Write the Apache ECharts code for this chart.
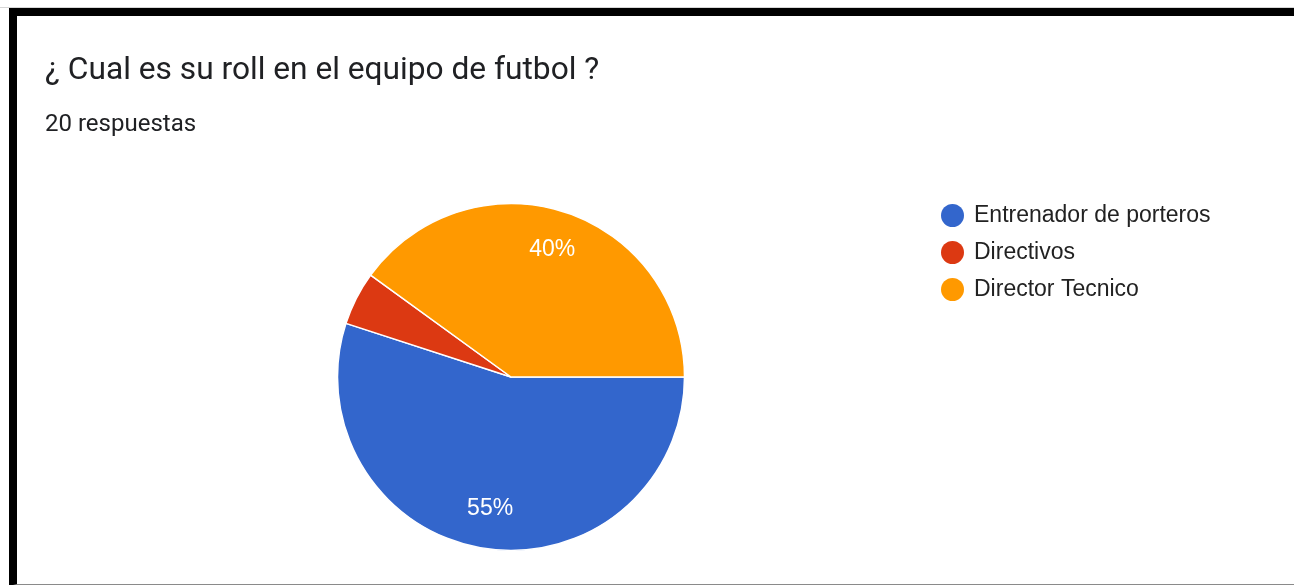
<!DOCTYPE html>
<html>
<head>
<meta charset="utf-8">
<script src="https://cdn.jsdelivr.net/npm/echarts@6/dist/echarts.min.js"></script>
<style>
  html, body { margin: 0; padding: 0; background: #ffffff; }
  body { width: 1294px; height: 585px; position: relative; overflow: hidden; }
  .topline { position: absolute; left: 0; top: 7px; width: 1294px; height: 1px; background: #d6d6d6; }
  .frame { position: absolute; left: 9px; top: 8px; width: 1300px; height: 568px;
           border-top: 8px solid #000; border-left: 8px solid #000; border-bottom: 2px solid #8a8a8a; }
  #chart { position: absolute; left: 0; top: 0; width: 1294px; height: 585px; }
</style>
</head>
<body>
<div class="topline"></div>
<div class="frame"></div>
<div id="chart"></div>
<script>
// Survey question and response count
const questionTitle = '¿ Cual es su roll en el equipo de futbol ?';
const responseNote = '20 respuestas';

// Answer options and how many respondents picked each
const categories = ['Entrenador de porteros', 'Directivos', 'Director Tecnico'];
const counts = [11, 1, 8];
const sliceColors = ['#3366cc', '#dc3912', '#ff9900'];

// Slices too small to carry an in-slice percentage label
const hiddenLabels = ['Directivos'];

const pieData = categories.map((name, i) => ({ name: name, value: counts[i] }));
const labelData = categories.map((name, i) => ({
  name: name,
  value: counts[i],
  label: { show: hiddenLabels.indexOf(name) < 0 }
}));

const R = 173.5;
const center = [511, 377];

const chart = echarts.init(document.getElementById('chart'), null, { renderer: 'canvas' });
chart.setOption({
  animation: false,
  color: sliceColors,
  title: [
    {
      text: questionTitle,
      left: 40,
      top: 48,
      textStyle: { fontFamily: 'Roboto', fontSize: 31.7, fontWeight: 'normal', color: '#202124', lineHeight: 36 }
    },
    {
      text: responseNote,
      left: 40,
      top: 105,
      textStyle: { fontFamily: 'Roboto', fontSize: 24, fontWeight: 'normal', color: '#202124', lineHeight: 30 }
    }
  ],
  legend: {
    orient: 'vertical',
    left: 941,
    top: 204,
    padding: 0,
    icon: 'circle',
    itemWidth: 23,
    itemHeight: 23,
    itemGap: 14,
    itemStyle: { borderWidth: 0 },
    data: categories,
    textStyle: { fontFamily: 'Liberation Sans, Arial', fontSize: 23, color: '#222222', lineHeight: 23, padding: [0, 0, 0, 5] }
  },
  series: [
    {
      name: 'rol',
      type: 'pie',
      center: center,
      radius: R,
      startAngle: 0,
      clockwise: true,
      avoidLabelOverlap: false,
      label: { show: false },
      labelLine: { show: false },
      itemStyle: { borderColor: '#ffffff', borderWidth: 1.5 },
      emphasis: { disabled: true },
      data: pieData
    },
    {
      name: 'rol-labels',
      type: 'pie',
      center: center,
      radius: [R * 0.505, R],
      startAngle: 0,
      clockwise: true,
      silent: true,
      avoidLabelOverlap: false,
      itemStyle: { color: 'rgba(0,0,0,0)', borderWidth: 0 },
      labelLine: { show: false },
      label: {
        position: 'inside',
        fontFamily: 'Liberation Sans, Arial',
        fontSize: 23,
        color: '#ffffff',
        formatter: p => Math.round(p.percent) + '%'
      },
      emphasis: { disabled: true },
      data: labelData
    }
  ]
});
</script>
</body>
</html>
